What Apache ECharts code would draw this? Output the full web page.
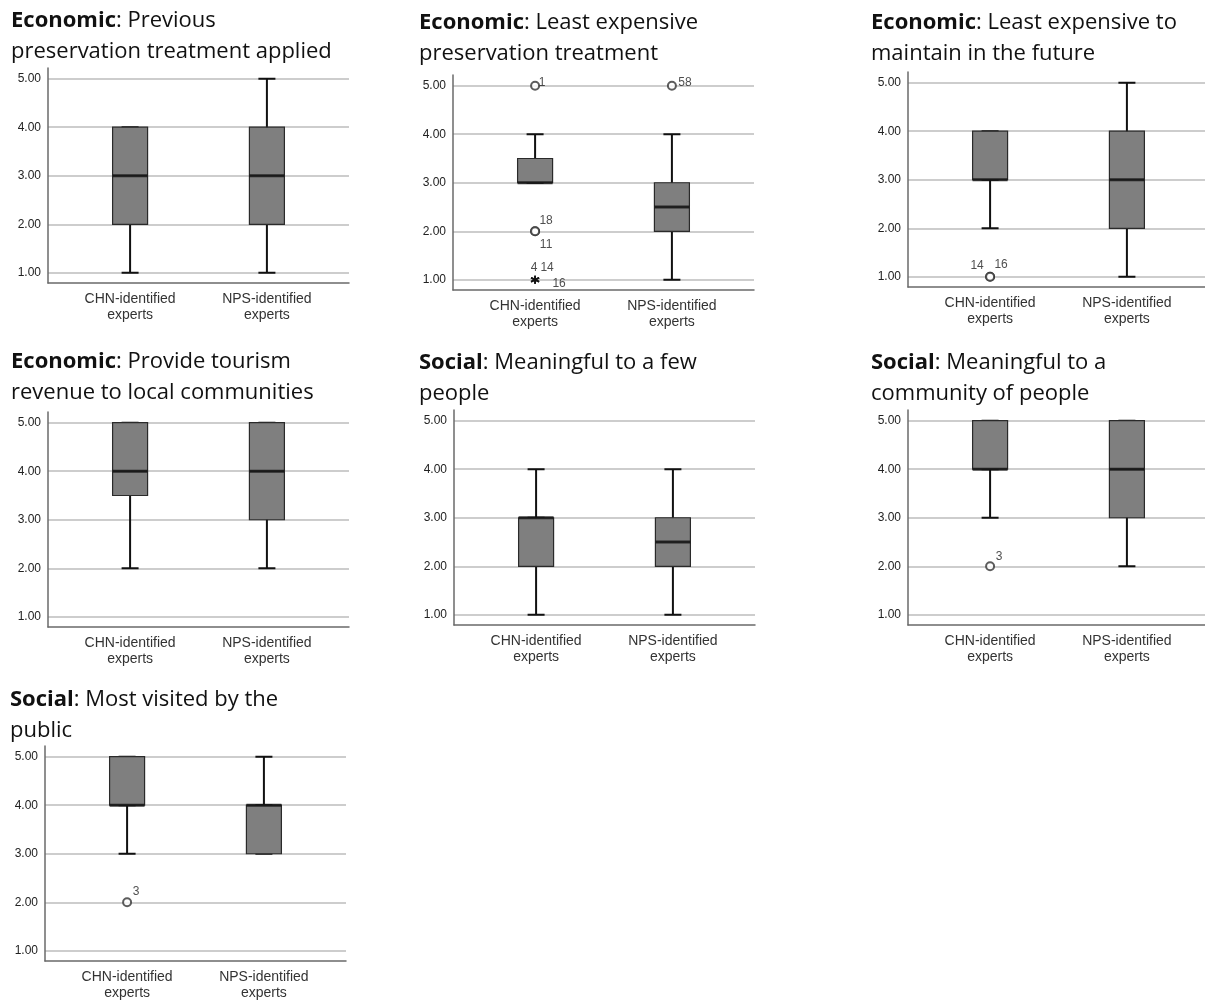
<!DOCTYPE html>
<html>
<head>
<meta charset="utf-8">
<script src="https://cdn.jsdelivr.net/npm/echarts@6/dist/echarts.min.js"></script>
<style>
  html, body { margin: 0; padding: 0; background: #fff; }
  #chart { width: 1205px; height: 1005px; }
</style>
</head>
<body>
<div id="chart"></div>
<script>
// panel headings
const groups = ['Economic', 'Economic', 'Economic', 'Economic', 'Social', 'Social', 'Social']
const subjects = [
  'Previous\npreservation treatment applied',
  'Least expensive\npreservation treatment',
  'Least expensive to\nmaintain in the future',
  'Provide tourism\nrevenue to local communities',
  'Meaningful to a few\npeople',
  'Meaningful to a\ncommunity of people',
  'Most visited by the\npublic'
]
const categories = ['CHN-identified\nexperts', 'NPS-identified\nexperts']
const yTicks = [1, 2, 3, 4, 5]

// [min, q1, median, q3, max] for CHN and NPS, per panel
const boxes = [
  [[1, 2, 3, 4, 4], [1, 2, 3, 4, 5]],
  [[3, 3, 3, 3.5, 4], [1, 2, 2.5, 3, 4]],
  [[2, 3, 3, 4, 4], [1, 2, 3, 4, 5]],
  [[2, 3.5, 4, 5, 5], [2, 3, 4, 5, 5]],
  [[1, 2, 3, 3, 4], [1, 2, 2.5, 3, 4]],
  [[3, 4, 4, 5, 5], [2, 3, 4, 5, 5]],
  [[3, 4, 4, 5, 5], [3, 3, 4, 4, 5]]
]
// [group index, value, case id]
const outliers = [
  [],
  [[0, 5, '1'], [0, 2, '18'], [0, 2, '11'], [1, 5, '58']],
  [[0, 1, '14'], [0, 1, '16']],
  [],
  [],
  [[0, 2, '3']],
  [[0, 2, '3']]
]
const extremes = [
  [],
  [[0, 1, '4'], [0, 1, '14'], [0, 1, '16']],
  [], [], [], [], []
]

// layout of each small chart (pixels)
const panels = [
  { left: 48, top: 68, tx: 11, ty: 5 },
  { left: 453, top: 75, tx: 419, ty: 7 },
  { left: 908, top: 72, tx: 871, ty: 7 },
  { left: 48, top: 412, tx: 11, ty: 346 },
  { left: 454, top: 410, tx: 419, ty: 347 },
  { left: 908, top: 410, tx: 871, ty: 347 },
  { left: 45, top: 746, tx: 10, ty: 684 }
]
const labelOffset = {
  '1-1': [7, -3], '1-18': [11, -11], '1-11': [11, 13], '1-58': [13, -3],
  '1-4': [-1, -12], '1-14': [12, -12], '1-16': [24, 4],
  '2-14': [-13, -11], '2-16': [11, -12],
  '5-3': [9, -10], '6-3': [9, -11]
}

const AXIS = '#6a6a6a'
const GRIDLINE = '#bcbcbc'
const LABEL_FONT = 'Liberation Sans, Arial, sans-serif'
const TITLE_FONT = 'Open Sans'

const chart = echarts.init(document.getElementById('chart'))

const title = [], grid = [], xAxis = [], yAxis = [], series = []

panels.forEach((p, i) => {
  title.push({
    left: p.tx, top: p.ty, padding: 0,
    text: '{b|' + groups[i] + '}: ' + subjects[i],
    textStyle: {
      fontFamily: TITLE_FONT, fontSize: 22, fontWeight: 'normal', color: '#111', lineHeight: 31,
      rich: { b: { fontFamily: TITLE_FONT, fontSize: 22, fontWeight: 'bold', color: '#111', lineHeight: 31 } }
    }
  })
  grid.push({ left: p.left, top: p.top, width: 301, height: 215, outerBoundsMode: 'none' })
  yAxis.push({
    gridIndex: i, type: 'value', min: 0.79, max: 5.22,
    axisLine: { show: true, onZero: false, lineStyle: { color: AXIS, width: 1.5 } },
    axisTick: { show: false, customValues: yTicks },
    axisLabel: {
      customValues: yTicks, formatter: v => v.toFixed(2),
      color: '#222', fontSize: 12, fontFamily: LABEL_FONT, margin: 7
    },
    splitLine: { show: true, lineStyle: { color: GRIDLINE, width: 1.5 } }
  })
  xAxis.push({
    gridIndex: i, type: 'value', min: 0.4, max: 2.6,
    axisLine: { show: true, onZero: false, lineStyle: { color: AXIS, width: 1.5 } },
    axisTick: { show: false },
    splitLine: { show: false },
    axisLabel: {
      customValues: [1, 2], formatter: v => categories[Math.round(v) - 1],
      color: '#333', fontSize: 14, lineHeight: 16, fontFamily: LABEL_FONT, margin: 8
    }
  })
  // hidden twin axis so the whisker series is not offset from the boxes
  xAxis.push({ gridIndex: i, type: 'value', min: 0.4, max: 2.6, show: false })

  const b = boxes[i]
  series.push({
    type: 'boxplot', xAxisIndex: 2 * i + 1, yAxisIndex: i, z: 2, silent: true,
    boxWidth: [17, 17],
    itemStyle: { color: '#111', borderColor: '#111', borderWidth: 2 },
    data: b.map((d, k) => [k + 1, d[0], d[2], d[2], d[2], d[4]])
  })
  series.push({
    type: 'boxplot', xAxisIndex: 2 * i, yAxisIndex: i, z: 3, silent: true,
    boxWidth: [35, 35],
    itemStyle: { color: '#7f7f7f', borderColor: '#2a2a2a', borderWidth: 1.2 },
    data: b.map((d, k) => [k + 1, d[1], d[1], d[2], d[3], d[3]])
  })
  series.push({
    type: 'scatter', xAxisIndex: 2 * i, yAxisIndex: i, z: 4, silent: true,
    symbol: 'rect', symbolSize: [35, 3],
    itemStyle: { color: '#111' },
    data: b.map((d, k) => [k + 1, d[2]])
  })
  const caseLabel = {
    show: true, position: 'inside', formatter: q => q.data.id,
    color: '#222', fontSize: 12, fontFamily: LABEL_FONT
  }
  const toItem = o => ({
    value: [o[0] + 1, o[1]], id: o[2],
    label: { offset: labelOffset[i + '-' + o[2]] || [9, -10] }
  })
  series.push({
    type: 'scatter', xAxisIndex: 2 * i, yAxisIndex: i, z: 5, silent: true,
    symbol: 'emptyCircle', symbolSize: 8,
    itemStyle: { color: '#333', borderWidth: 1.3 },
    label: caseLabel,
    data: outliers[i].map(toItem)
  })
  series.push({
    type: 'scatter', xAxisIndex: 2 * i, yAxisIndex: i, z: 5, silent: true,
    symbol: 'path://M5,0L5,10M0.67,2.5L9.33,7.5M0.67,7.5L9.33,2.5', symbolSize: 8,
    itemStyle: { color: 'none', borderColor: '#111', borderWidth: 1.8 },
    label: caseLabel,
    data: extremes[i].map(toItem)
  })
})

chart.setOption({
  animation: false,
  backgroundColor: '#fff',
  title, grid, xAxis, yAxis, series
})
</script>
</body>
</html>
